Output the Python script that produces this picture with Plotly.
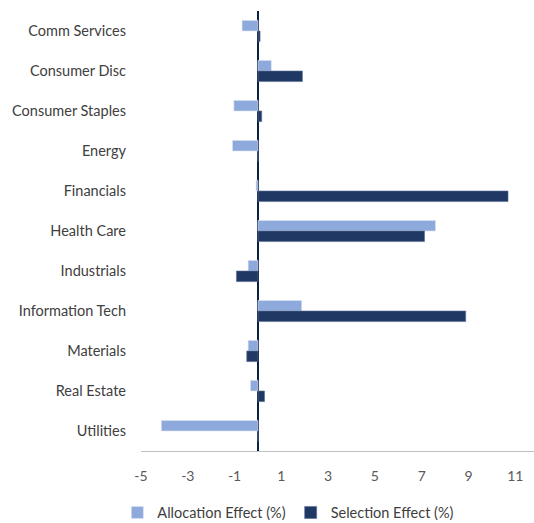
import plotly.graph_objects as go

categories = ["Comm Services", "Consumer Disc", "Consumer Staples", "Energy", "Financials",
              "Health Care", "Industrials", "Information Tech", "Materials", "Real Estate", "Utilities"]
allocation = [-0.68, 0.57, -1.03, -1.09, -0.08, 7.59, -0.42, 1.87, -0.42, -0.32, -4.13]
selection = [0.09, 1.90, 0.16, 0.0, 10.69, 7.12, -0.92, 8.88, -0.48, 0.28, 0.0]
tick_vals = [-5, -3, -1, 1, 3, 5, 7, 9, 11]
tick_text = ["-5", "-3", "-1", "1", "3", "5", "7", "9", "11"]

fig = go.Figure()
fig.add_trace(go.Bar(y=categories, x=allocation, orientation="h", name="Allocation Effect (%)",
                     marker=dict(color="#8EA9DB", line=dict(color="#DCE4F2", width=0.6))))
fig.add_trace(go.Bar(y=categories, x=selection, orientation="h", name="Selection Effect (%)",
                     marker=dict(color="#203864", line=dict(color="#5A6F93", width=0.6))))

font = "Lato, Calibri, Carlito, sans-serif"
fig.update_layout(
    width=534, height=523,
    margin=dict(l=141, r=0, t=11, b=72),
    barmode="group", bargap=0.47, bargroupgap=0,
    plot_bgcolor="white", paper_bgcolor="white",
    font=dict(family=font, size=14.5, color="#404040"),
    showlegend=True,
    legend=dict(orientation="h", xref="container", x=0.54, xanchor="center",
                yref="container", y=0.02, yanchor="middle",
                font=dict(size=14.5, color="#404040"), itemwidth=30, traceorder="normal",
                tracegroupgap=0),
    xaxis=dict(range=[-5, 11.8], tickvals=tick_vals, ticktext=tick_text, showgrid=False,
               zeroline=True, zerolinecolor="#0A2240", zerolinewidth=2,
               showline=True, linecolor="#BFBFBF", linewidth=1,
               ticks="", ticklabelstandoff=12,
               tickfont=dict(size=14, color="#595959")),
    yaxis=dict(autorange="reversed", showgrid=False, zeroline=False, automargin=False,
               ticks="", ticklabelstandoff=14, tickfont=dict(size=14.5, color="#404040")),
)

fig.write_html("out.html")
